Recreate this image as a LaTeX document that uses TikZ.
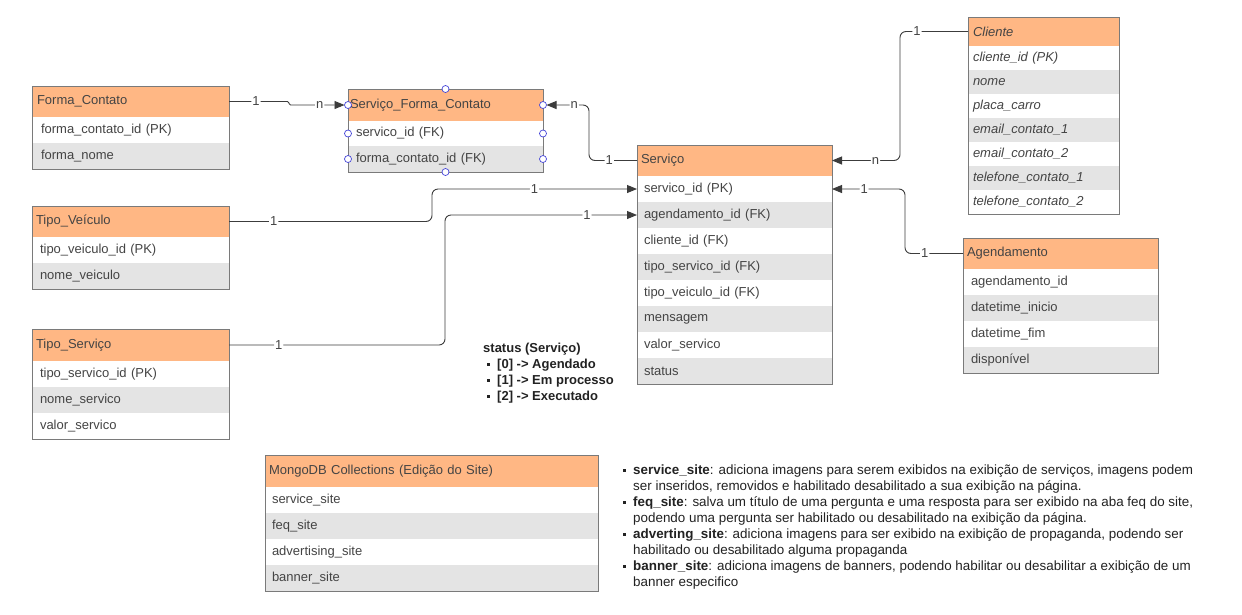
\documentclass[tikz,border=0pt]{standalone}
\usepackage{fontspec}
\setmainfont{Liberation Sans}
\usetikzlibrary{arrows.meta}
\definecolor{hdrc}{HTML}{FFB784}
\definecolor{rowc}{HTML}{E4E4E4}
\definecolor{bordc}{HTML}{7A7A7A}
\definecolor{txtc}{HTML}{444444}
\definecolor{darkt}{HTML}{222222}
\definecolor{linec}{HTML}{3C3C3C}
\definecolor{portc}{HTML}{4444D8}
\newcommand\fs{\fontsize{13}{16}\selectfont}
\newcommand\fn{\fontsize{13.4}{16}\selectfont}
\newcommand\bul{\makebox[10pt][l]{\rule[0.22em]{3pt}{3pt}}}
\begin{document}
\begin{tikzpicture}[x=1pt,y=-1pt,
 cell/.style={anchor=north west, inner ysep=0pt, outer sep=0pt, font=\fs, text=txtc, align=left},
 thead/.style n args={3}{cell, fill=hdrc, draw=bordc, line width=0.8pt, text width=#1, inner xsep=#2, minimum height=#3},
 trw/.style n args={3}{cell, fill=white, text width=#1, inner xsep=#2, minimum height=#3},
 trg/.style n args={3}{cell, fill=rowc, text width=#1, inner xsep=#2, minimum height=#3},
 frame/.style={draw=bordc, line width=0.8pt},
 conn/.style={draw=linec, line width=0.9pt, rounded corners=6pt},
 tip/.style={-{Triangle[length=10pt,width=8pt]}},
 lbl/.style={fill=white, inner sep=1pt, font=\fs, text=txtc},
 port/.style={circle, draw=portc, fill=white, line width=0.7pt, inner sep=0pt, minimum size=7pt},
]
\useasboundingbox[fill=white] (0,0) rectangle (1242,614);

% Forma_Contato
\node[thead={187pt}{5pt}{31pt}] (fch) at (32,86) {Forma\_Contato};
\node[trw={179pt}{9pt}{26pt}] (fc1) at (fch.south west) {forma\_contato\_id (PK)};
\node[trg={179pt}{9pt}{26pt}] (fc2) at (fc1.south west) {forma\_nome};
\draw[frame] (fch.north west) rectangle (fc2.south east);

% Servico_Forma_Contato
\node[thead={191pt}{2pt}{32pt}] (sfh) at (348,89) {Serviço\_Forma\_Contato};
\node[trw={179pt}{8pt}{25pt}] (sf1) at (sfh.south west) {servico\_id (FK)};
\node[trg={179pt}{8pt}{26pt}] (sf2) at (sf1.south west) {forma\_contato\_id (FK)};
\draw[frame] (sfh.north west) rectangle (sf2.south east);

% Cliente
\node[thead={141pt}{5pt}{29pt}, font=\fs\itshape] (clh) at (968,17) {Cliente};
\node[trw={141pt}{5pt}{24pt}, font=\fs\itshape] (cl1) at (clh.south west) {cliente\_id (PK)};
\node[trg={141pt}{5pt}{24pt}, font=\fs\itshape] (cl2) at (cl1.south west) {nome};
\node[trw={141pt}{5pt}{24pt}, font=\fs\itshape] (cl3) at (cl2.south west) {placa\_carro};
\node[trg={141pt}{5pt}{24pt}, font=\fs\itshape] (cl4) at (cl3.south west) {email\_contato\_1};
\node[trw={141pt}{5pt}{24pt}, font=\fs\itshape] (cl5) at (cl4.south west) {email\_contato\_2};
\node[trg={141pt}{5pt}{24pt}, font=\fs\itshape] (cl6) at (cl5.south west) {telefone\_contato\_1};
\node[trw={141pt}{5pt}{24pt}, font=\fs\itshape] (cl7) at (cl6.south west) {telefone\_contato\_2};
\draw[frame] (clh.north west) rectangle (cl7.south east);

% Servico
\node[thead={187pt}{4pt}{31pt}] (svh) at (637,145) {Serviço};
\node[trw={181pt}{7pt}{26pt}] (sv1) at (svh.south west) {servico\_id (PK)};
\node[trg={181pt}{7pt}{26pt}] (sv2) at (sv1.south west) {agendamento\_id (FK)};
\node[trw={181pt}{7pt}{26pt}] (sv3) at (sv2.south west) {cliente\_id (FK)};
\node[trg={181pt}{7pt}{26pt}] (sv4) at (sv3.south west) {tipo\_servico\_id (FK)};
\node[trw={181pt}{7pt}{26pt}] (sv5) at (sv4.south west) {tipo\_veiculo\_id (FK)};
\node[trg={181pt}{7pt}{26pt}] (sv6) at (sv5.south west) {mensagem};
\node[trw={181pt}{7pt}{26pt}] (sv7) at (sv6.south west) {valor\_servico};
\node[trg={181pt}{7pt}{26pt}] (sv8) at (sv7.south west) {status};
\draw[frame] (svh.north west) rectangle (sv8.south east);

% Tipo_Veiculo
\node[thead={189pt}{4pt}{31pt}] (tvh) at (32,206) {Tipo\_Veículo};
\node[trw={181pt}{8pt}{26pt}] (tv1) at (tvh.south west) {tipo\_veiculo\_id (PK)};
\node[trg={181pt}{8pt}{26pt}] (tv2) at (tv1.south west) {nome\_veiculo};
\draw[frame] (tvh.north west) rectangle (tv2.south east);

% Tipo_Servico
\node[thead={189pt}{4pt}{32pt}] (tsh) at (32,329) {Tipo\_Serviço};
\node[trw={181pt}{8pt}{26pt}] (ts1) at (tsh.south west) {tipo\_servico\_id (PK)};
\node[trg={181pt}{8pt}{26pt}] (ts2) at (ts1.south west) {nome\_servico};
\node[trw={181pt}{8pt}{26pt}] (ts3) at (ts2.south west) {valor\_servico};
\draw[frame] (tsh.north west) rectangle (ts3.south east);

% Agendamento
\node[thead={187pt}{4pt}{31pt}] (agh) at (963,238) {Agendamento};
\node[trw={179pt}{8pt}{26pt}] (ag1) at (agh.south west) {agendamento\_id};
\node[trg={179pt}{8pt}{26pt}] (ag2) at (ag1.south west) {datetime\_inicio};
\node[trw={179pt}{8pt}{26pt}] (ag3) at (ag2.south west) {datetime\_fim};
\node[trg={179pt}{8pt}{26pt}] (ag4) at (ag3.south west) {disponível};
\draw[frame] (agh.north west) rectangle (ag4.south east);

% MongoDB
\node[thead={325pt}{4pt}{32pt}] (mgh) at (265,455) {MongoDB Collections (Edição do Site)};
\node[trw={319pt}{7pt}{26pt}] (mg1) at (mgh.south west) {service\_site};
\node[trg={319pt}{7pt}{26pt}] (mg2) at (mg1.south west) {feq\_site};
\node[trw={319pt}{7pt}{26pt}] (mg3) at (mg2.south west) {advertising\_site};
\node[trg={319pt}{7pt}{26pt}] (mg4) at (mg3.south west) {banner\_site};
\draw[frame] (mgh.north west) rectangle (mg4.south east);

% connectors
\draw[conn, rounded corners=1.5pt, tip, shorten >=3.5pt] (fch.east) -- node[lbl, pos=0.45]{1} ++(60,0) |- node[lbl, pos=0.76]{n} (sfh.west);
\draw[conn, tip, shorten >=3.5pt] (svh.west) -- node[lbl, pos=0.58]{1} ++(-48,0) |- node[lbl, pos=0.66]{n} (sfh.east);
\draw[conn, tip] (clh.west) -- node[lbl, pos=0.75]{1} ++(-68,0) |- node[lbl, pos=0.68]{n} (svh.east);
\draw[conn, tip] (tvh.east) -- node[lbl, pos=0.22]{1} ++(203,0) |- node[lbl, pos=0.75]{1} (sv1.west);
\draw[conn, tip] (tsh.east) -- node[lbl, pos=0.23]{1} ++(216,0) |- node[lbl, pos=0.87]{1} (sv2.west);
\draw[conn, tip] (agh.west) -- node[lbl, pos=0.66]{1} ++(-58,0) |- node[lbl, pos=0.78]{1} (sv1.east);

% ports
\node[port] (p1) at (sfh.north) {};
\node[port] (p2) at (sf2.south) {};
\node[port] (p3) at (sfh.west) {};
\node[port] (p4) at (sf1.west) {};
\node[port] (p5) at (sf2.west) {};
\node[port] (p6) at (sfh.east) {};
\node[port] (p7) at (sf1.east) {};
\node[port] (p8) at (sf2.east) {};

% status note
\node[anchor=north west, inner sep=0pt, align=left, font=\fs\bfseries, text=darkt] (st) at (483,343)
 {status (Serviço)\\
 \hspace*{4pt}\bul[0] -> Agendado\\
 \hspace*{4pt}\bul[1] -> Em processo\\
 \hspace*{4pt}\bul[2] -> Executado};

% collections notes
\node[anchor=north west, inner sep=0pt, align=left, font=\fn, text=darkt] (notes) at (623,465)
 {\bul\textbf{service\_site}: adiciona imagens para serem exibidos na exibição de serviços, imagens podem\\
 \hspace*{10pt}ser inseridos, removidos e habilitado desabilitado a sua exibição na página.\\
 \bul\textbf{feq\_site}: salva um título de uma pergunta e uma resposta para ser exibido na aba feq do site,\\
 \hspace*{10pt}podendo uma pergunta ser habilitado ou desabilitado na exibição da página.\\
 \bul\textbf{adverting\_site}: adiciona imagens para ser exibido na exibição de propaganda, podendo ser\\
 \hspace*{10pt}habilitado ou desabilitado alguma propaganda\\
 \bul\textbf{banner\_site}: adiciona imagens de banners, podendo habilitar ou desabilitar a exibição de um\\
 \hspace*{10pt}banner especifico};
\end{tikzpicture}
\end{document}
